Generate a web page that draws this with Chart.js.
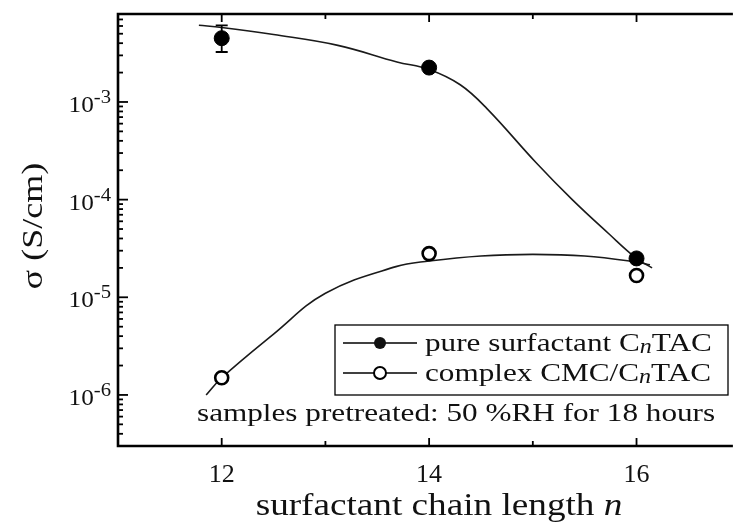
<!DOCTYPE html>
<html>
<head>
<meta charset="utf-8">
<script src="https://cdn.jsdelivr.net/npm/chart.js@4/dist/chart.umd.min.js"></script>
<style>
  html, body { margin: 0; padding: 0; background: #fff; }
  #wrap { width: 740px; height: 524px; }
</style>
</head>
<body>
<div id="wrap"><canvas id="sigmaChart" width="740" height="524"></canvas></div>
<script>
// data
const chainLength = [12, 14, 16];
const pureSigma = [4.5e-3, 2.25e-3, 2.5e-5];
const pureErrLow = [3.25e-3, null, null];
const pureErrHigh = [6.1e-3, null, null];
const complexSigma = [1.5e-6, 2.8e-5, 1.67e-5];

// fitted guide curves
const pureFitN = [11.78, 12, 12.5, 13.12, 13.69, 14, 14.3, 14.56, 15.03, 15.38, 15.73, 16, 16.15];
const pureFitSigma = [6.1e-3, 5.8e-3, 4.9e-3, 3.8e-3, 2.57e-3, 2.15e-3, 1.5e-3, 8.5e-4, 2.4e-4, 1.0e-4, 4.5e-5, 2.5e-5, 2.0e-5];
const complexFitN = [11.85, 12, 12.5, 13, 13.68, 14, 14.5, 15, 15.5, 16, 16.13];
const complexFitSigma = [1.0e-6, 1.5e-6, 4.2e-6, 1.1e-5, 2.06e-5, 2.35e-5, 2.65e-5, 2.75e-5, 2.65e-5, 2.3e-5, 2.15e-5];

const xTickLabels = [12, 14, 16];
const yTickExponents = [-6, -5, -4, -3];
const legendLabels = ['pure surfactant C', 'complex CMC/C'];
const noteText = 'samples pretreated: 50 %RH for 18 hours';

const SERIF = '"Liberation Serif", "Times New Roman", serif';
const STRETCH = 1.2;

function pts(xs, ys) {
    return xs.map((x, i) => ({ x: x, y: ys[i] }));
}

// draws a list of text runs with horizontal stretch
function drawRuns(ctx, x, y, runs, stretch) {
    const sx = stretch || STRETCH;
    let cx = x;
    runs.forEach(r => {
        ctx.font = (r.italic ? 'italic ' : '') + r.size + 'px ' + SERIF;
        ctx.save();
        ctx.translate(cx, y + (r.dy || 0));
        ctx.scale(sx, 1);
        ctx.fillText(r.text, 0, 0);
        ctx.restore();
        cx += ctx.measureText(r.text).width * sx;
    });
    return cx - x;
}

const framePlugin = {
    id: 'framePlugin',
    afterDraw(chart) {
        const ctx = chart.ctx;
        const a = chart.chartArea;
        const xs = chart.scales.x;
        const ys = chart.scales.y;
        ctx.save();
        ctx.strokeStyle = '#000';
        ctx.fillStyle = '#111';

        // error bars
        ctx.lineWidth = 1.8;
        chainLength.forEach((n, i) => {
            if (pureErrLow[i] == null) return;
            const px = xs.getPixelForValue(n);
            const y1 = ys.getPixelForValue(pureErrLow[i]);
            const y2 = ys.getPixelForValue(pureErrHigh[i]);
            ctx.beginPath();
            ctx.moveTo(px, y1); ctx.lineTo(px, y2);
            ctx.moveTo(px - 6, y1); ctx.lineTo(px + 6, y1);
            ctx.moveTo(px - 6, y2); ctx.lineTo(px + 6, y2);
            ctx.stroke();
        });

        // frame
        ctx.lineWidth = 2.6;
        ctx.beginPath();
        ctx.moveTo(a.right + 2, a.top);
        ctx.lineTo(a.left, a.top);
        ctx.lineTo(a.left, a.bottom);
        ctx.lineTo(a.right + 2, a.bottom);
        ctx.stroke();

        // inward ticks, y (log)
        ctx.lineWidth = 1.8;
        for (let e = -7; e <= -2; e++) {
            for (let k = 1; k <= 9; k++) {
                const v = k * Math.pow(10, e);
                if (v < ys.min || v > ys.max) continue;
                const py = ys.getPixelForValue(v);
                const len = k === 1 ? 10 : 5;
                ctx.beginPath();
                ctx.moveTo(a.left, py); ctx.lineTo(a.left + len, py);
                ctx.stroke();
            }
        }
        // inward ticks, x
        for (let n = 12; n <= 16; n++) {
            const px = xs.getPixelForValue(n);
            const len = n % 2 === 0 ? 8 : 5;
            ctx.beginPath();
            ctx.moveTo(px, a.bottom); ctx.lineTo(px, a.bottom - len);
            ctx.moveTo(px, a.top); ctx.lineTo(px, a.top + len);
            ctx.stroke();
        }

        // y tick labels 10^e
        ctx.textAlign = 'left';
        ctx.textBaseline = 'alphabetic';
        yTickExponents.forEach(e => {
            const py = ys.getPixelForValue(Math.pow(10, e));
            ctx.font = '18px ' + SERIF;
            const expW = ctx.measureText(String(e)).width * 1.15;
            ctx.font = '24px ' + SERIF;
            const baseW = ctx.measureText('10').width * 1.05;
            const right = a.left - 7;
            drawRuns(ctx, right - expW - baseW, py + 10, [{ text: '10', size: 24 }], 1.05);
            drawRuns(ctx, right - expW, py + 1, [{ text: String(e), size: 18 }], 1.15);
        });

        // legend box
        ctx.lineWidth = 1.3;
        ctx.strokeRect(335, 325, 393, 70);
        const rows = [343, 373];
        rows.forEach((ry, i) => {
            ctx.lineWidth = 1.5;
            ctx.beginPath();
            ctx.moveTo(343, ry); ctx.lineTo(417, ry);
            ctx.stroke();
            ctx.beginPath();
            ctx.arc(380, ry, 6, 0, Math.PI * 2);
            if (i === 0) {
                ctx.fill();
            } else {
                ctx.fillStyle = '#fff';
                ctx.fill();
                ctx.fillStyle = '#111';
                ctx.lineWidth = 2;
                ctx.stroke();
            }
            ctx.textBaseline = 'middle';
            ctx.textAlign = 'left';
            drawRuns(ctx, 425, ry + 1, [
                { text: legendLabels[i], size: 26 },
                { text: 'n', size: 20, italic: true, dy: 4 },
                { text: 'TAC', size: 26 }
            ]);
        });

        // note
        ctx.textBaseline = 'alphabetic';
        drawRuns(ctx, 197, 421, [{ text: noteText, size: 26 }]);

        // x title
        ctx.font = '31px ' + SERIF;
        const w1 = ctx.measureText('surfactant chain length ').width * STRETCH;
        ctx.font = 'italic 31px ' + SERIF;
        const w2 = ctx.measureText('n').width * STRETCH;
        drawRuns(ctx, 439 - (w1 + w2) / 2, 515, [
            { text: 'surfactant chain length ', size: 31 },
            { text: 'n', size: 31, italic: true }
        ]);

        // y title
        ctx.save();
        ctx.translate(34, 226);
        ctx.rotate(-Math.PI / 2);
        ctx.scale(STRETCH, 1);
        ctx.font = '30px ' + SERIF;
        ctx.textAlign = 'center';
        ctx.textBaseline = 'middle';
        ctx.fillText('\u03C3 (S/cm)', 0, 0);
        ctx.restore();

        ctx.restore();
    }
};

const chart = new Chart(document.getElementById('sigmaChart').getContext('2d'), {
    type: 'scatter',
    data: {
        datasets: [
            {
                label: 'pure fit',
                data: pts(pureFitN, pureFitSigma),
                showLine: true,
                borderColor: '#1a1a1a',
                borderWidth: 1.6,
                pointRadius: 0,
                tension: 0.4,
                order: 3
            },
            {
                label: 'complex fit',
                data: pts(complexFitN, complexFitSigma),
                showLine: true,
                borderColor: '#1a1a1a',
                borderWidth: 1.6,
                pointRadius: 0,
                tension: 0.4,
                order: 3
            },
            {
                label: 'pure surfactant CnTAC',
                data: pts(chainLength, pureSigma),
                pointStyle: 'circle',
                pointRadius: 7.5,
                backgroundColor: '#000',
                borderColor: '#000',
                borderWidth: 1,
                order: 1
            },
            {
                label: 'complex CMC/CnTAC',
                data: pts(chainLength, complexSigma),
                pointStyle: 'circle',
                pointRadius: 6.5,
                backgroundColor: '#fff',
                borderColor: '#000',
                borderWidth: 2.6,
                order: 2
            }
        ]
    },
    options: {
        responsive: false,
        animation: false,
        layout: { padding: { top: 14, right: 0, bottom: 0, left: 0 } },
        plugins: {
            legend: { display: false },
            tooltip: { enabled: false }
        },
        scales: {
            x: {
                type: 'linear',
                min: 11,
                max: 16.91,
                grid: { display: false },
                border: { display: false },
                afterFit: s => { s.height = 78; },
                afterBuildTicks: s => {
                    s.ticks = [11, 12, 13, 14, 15, 16].map(v => ({ value: v }));
                },
                ticks: {
                    autoSkip: false,
                    maxRotation: 0,
                    padding: 6,
                    color: '#111',
                    font: { family: SERIF, size: 26 },
                    callback: v => xTickLabels.includes(v) ? String(v) : ''
                }
            },
            y: {
                type: 'logarithmic',
                min: 3.0e-7,
                max: 7.96e-3,
                grid: { display: false },
                border: { display: false },
                afterFit: s => { s.width = 118; },
                ticks: { display: false }
            }
        }
    },
    plugins: [framePlugin]
});
</script>
</body>
</html>
